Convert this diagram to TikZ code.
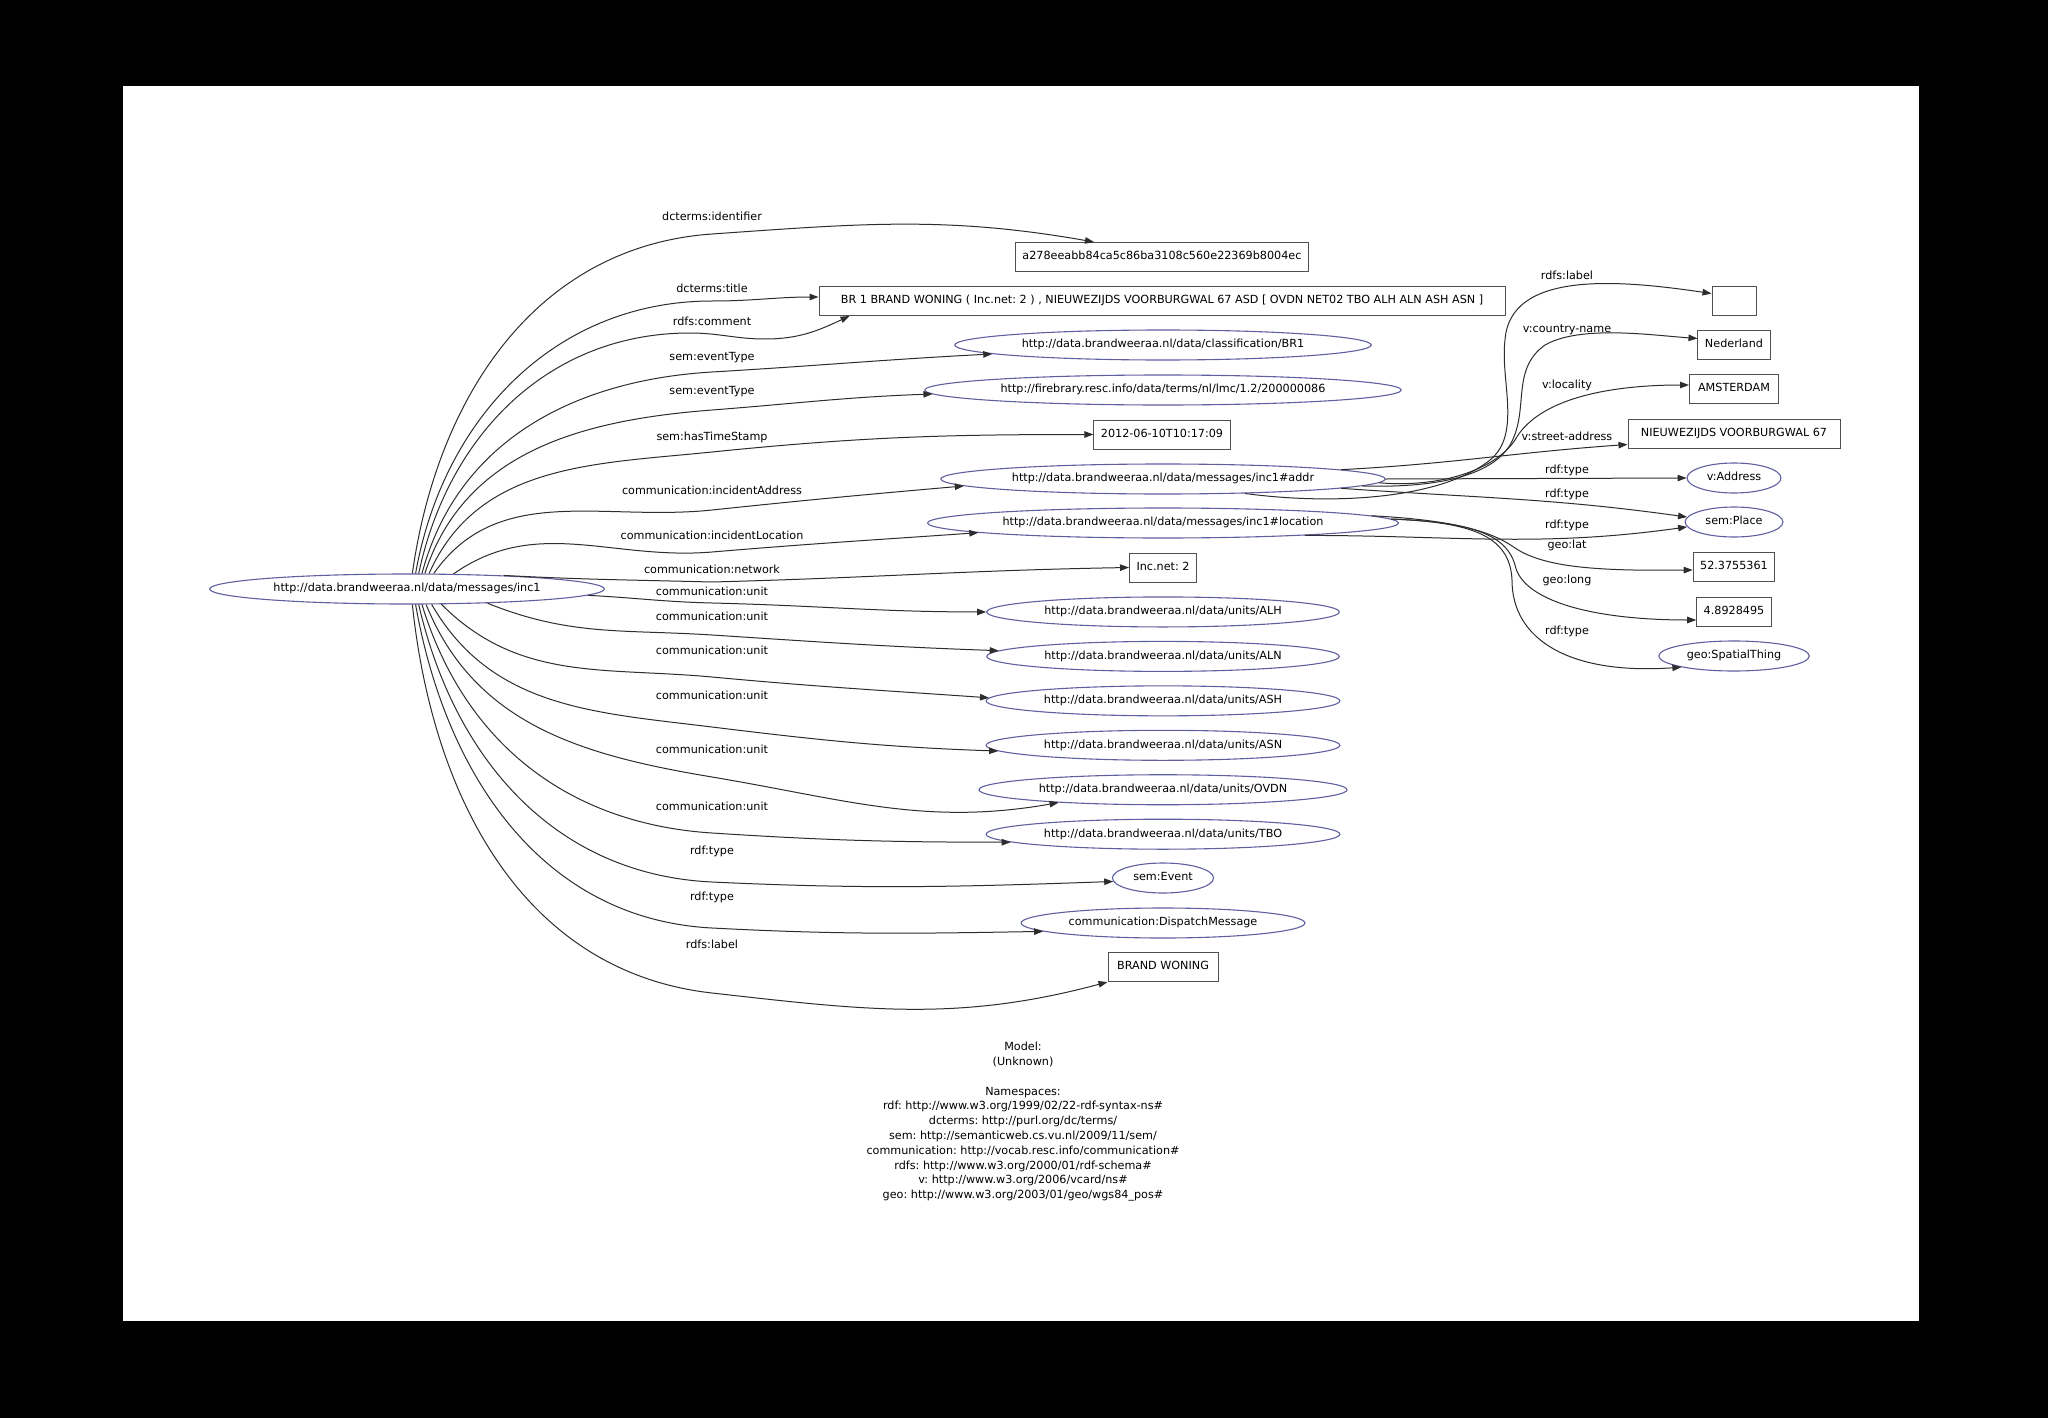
\documentclass[tikz,border=0pt]{standalone}
\usepackage{fontspec}
\setmainfont{DejaVu Sans}
\usepackage{tikz}
\usetikzlibrary{arrows.meta, shapes.geometric}
\definecolor{resblue}{RGB}{96,96,160}
\definecolor{litgray}{RGB}{80,80,80}
\definecolor{edgegray}{RGB}{45,45,45}
\frenchspacing

\begin{document}
\begin{tikzpicture}[x=1pt, y=-1pt,
    font=\fontsize{11.2}{14.8}\selectfont,
    res/.style={ellipse, draw=resblue, line width=1.1pt, inner xsep=6pt, inner ysep=0pt,
                minimum height=30pt, text height=8.3pt, text depth=2.4pt},
    lit/.style={rectangle, draw=litgray, line width=1pt, inner xsep=7pt,
                minimum height=29pt, minimum width=44pt, text height=8.3pt, text depth=2.4pt},
    edge/.style={draw=edgegray, line width=1pt, -{Triangle[length=9pt,width=6.5pt]}},
    lbl/.style={inner sep=0pt, text height=8.3pt, text depth=2.4pt}]
  \useasboundingbox (0,0) rectangle (2048,1418);
  \fill[black] (0,0) rectangle (2048,1418);
  \fill[white] (123,86) rectangle (1919,1321);

  % subject
  \node[res] (inc) at (407,589) {http://data.brandweeraa.nl/data/messages/inc1};

  % objects of inc1
  \node[lit] (idf) at (1162,257) {a278eeabb84ca5c86ba3108c560e22369b8004ec};
  \node[lit, minimum width=686pt] (title) at (1162,301) {BR 1 BRAND WONING ( Inc.net: 2 ) , NIEUWEZIJDS VOORBURGWAL 67 ASD [ OVDN NET02 TBO ALH ALN ASH ASN ]};
  \node[res] (cls) at (1163,345) {http://data.brandweeraa.nl/data/classification/BR1};
  \node[res] (lmc) at (1163,390) {http://firebrary.resc.info/data/terms/nl/lmc/1.2/200000086};
  \node[lit] (stamp) at (1162,434.5) {2012-06-10T10:17:09};
  \node[res] (addr) at (1163,479) {http://data.brandweeraa.nl/data/messages/inc1\#addr};
  \node[res] (loc) at (1163,523) {http://data.brandweeraa.nl/data/messages/inc1\#location};
  \node[lit] (net) at (1163,567.5) {Inc.net: 2};
  \foreach \u [count=\k] in {ALH,ALN,ASH,ASN,OVDN,TBO}
    \node[res] (u\u) at (1163,{567.5+44.45*\k}) {http://data.brandweeraa.nl/data/units/\u};
  \node[res] (event) at (1163,878) {sem:Event};
  \node[res] (dispatch) at (1163,923) {communication:DispatchMessage};
  \node[lit, minimum width=110pt] (brand) at (1163,967) {BRAND WONING};

  % objects of addr and location
  \node[lit] (empty) at (1734,300.5) {};
  \node[lit] (country) at (1734,344.5) {Nederland};
  \node[lit, minimum width=89pt] (city) at (1734,389) {AMSTERDAM};
  \node[lit, minimum width=212pt] (street) at (1734,433.5) {NIEUWEZIJDS VOORBURGWAL 67};
  \node[res] (vaddr) at (1734,478) {v:Address};
  \node[res] (place) at (1734,522) {sem:Place};
  \node[lit] (lat) at (1734,567) {52.3755361};
  \node[lit] (long) at (1734,612) {4.8928495};
  \node[res] (spatial) at (1734,656) {geo:SpatialThing};

  % edges leaving the top of inc1
  \draw[edge] (inc.71.6) to[out=82,in=184] (712,234) to[out=4,in=170] ([xshift=-68]idf.north);
  \draw[edge] (inc.61.9) to[out=80,in=180] (712,301) to[out=0,in=180] ([yshift=4]title.west);
  \draw[edge] (inc.53.7) to[out=78,in=180] (690,333) to[out=0,in=180] (765,339)
    to[out=0,in=205] ([xshift=31]title.south west);
  \draw[edge] (inc.46.9) to[out=75,in=183.4] (712,372) to[out=3.4,in=183] (cls.183);
  \draw[edge] (inc.41.3) to[out=72,in=184.4] (712,410) to[out=4.4,in=182] (lmc.181);
  \draw[edge] (inc.35.4) to[out=66,in=185.8] (712,452) to[out=5.8,in=180] (stamp.west);
  \draw[edge] (inc.30.8) to[out=55,in=186] (712,510) to[out=6,in=185] (addr.182);
  \draw[edge] (inc.18.8) to[out=35,in=184.8] (712,552) to[out=4.8,in=184] (loc.183);
  \draw[edge] (inc.8.5) to[out=-3,in=178.5] (712,582) to[out=1.5,in=181] (net.west);

  % edges leaving the bottom of inc1
  \foreach \u/\ua/\uo/\uy/\us/\ue/\ui in {ALH/-2.5/-3/603/-1.4/180/180, ALN/-10.8/-22/635/-3.7/178/178,
      ASH/-24.1/-45/677/-5.3/179/176, ASN/-32.9/-60/727/-7/182/178,
      OVDN/-39.7/-68/777/-9.5/187/190, TBO/-46.9/-73/833/-3.7/183/180} {
    \pgfmathsetmacro{\uin}{180+\us}
    \draw[edge] (inc.\ua) to[out=\uo,in=\uin] (712,\uy) to[out=\us,in=\ui] (u\u.\ue);
  }
  \draw[edge] (inc.-53.7) to[out=-77,in=177.3] (712,882) to[out=-2.7,in=182] (event.184);
  \draw[edge] (inc.-61.9) to[out=-80,in=177] (712,928) to[out=-3,in=181] (dispatch.184);
  \draw[edge] (inc.-71.6) to[out=-84,in=173.6] (712,993) to[out=-6.4,in=195] (brand.south west);

  % edges of addr
  \draw[edge] (addr.-10.9) .. controls (1330,505) and (1440,500) .. (1490,460)
    .. controls (1522,434) and (1500,380) .. (1505,340)
    .. controls (1510,270) and (1620,280) .. ([yshift=7]empty.west);
  \draw[edge] (addr.-2) .. controls (1430,488) and (1490,478) .. (1510,445)
    .. controls (1530,410) and (1510,370) .. (1545,345)
    .. controls (1580,325) and (1650,335) .. ([yshift=6]country.west);
  \draw[edge] (addr.-1) .. controls (1440,488) and (1495,470) .. (1515,440)
    .. controls (1540,395) and (1620,385) .. ([yshift=4]city.west);
  \draw[edge] (addr.3) to[out=3,in=184] ([yshift=-11]street.west);
  \draw[edge] (addr.east) -- (vaddr.west);
  \draw[edge] (addr.-3) to[out=-4,in=172] (place.174);

  % edges of location
  \draw[edge] (loc.-5) to[out=0,in=188] (place.186);
  \draw[edge] (loc.2) .. controls (1450,520) and (1490,530) .. (1515,548)
    .. controls (1545,568) and (1600,571) .. ([yshift=-3]lat.west);
  \draw[edge] (loc.1) .. controls (1460,522) and (1505,530) .. (1515,565)
    .. controls (1522,600) and (1590,620) .. ([yshift=-8]long.west);
  \draw[edge] (loc.1.5) .. controls (1470,522) and (1510,535) .. (1512,580)
    .. controls (1512,640) and (1570,675) .. (spatial.192);

  % predicate labels
  \foreach \y/\txt [count=\k] in {218/dcterms:identifier, 290/dcterms:title, 322.7/rdfs:comment,
      358/sem:eventType, 391.7/sem:eventType, 437.7/sem:hasTimeStamp,
      491.7/communication:incidentAddress, 536.7/communication:incidentLocation,
      570.7/communication:network, 593/communication:unit, 617.7/communication:unit,
      652/communication:unit, 697/communication:unit, 750.7/communication:unit,
      807.7/communication:unit, 851.7/rdf:type, 897.7/rdf:type, 945.3/rdfs:label}
    \node[lbl] (el\k) at (712,\y) {\txt};
  \foreach \y/\txt [count=\k] in {277/rdfs:label, 330/v:country-name, 385.7/v:locality,
      438/v:street-address, 470.7/rdf:type, 494.3/rdf:type, 525.7/rdf:type,
      546/geo:lat, 581/geo:long, 631.7/rdf:type}
    \node[lbl] (er\k) at (1567,\y) {\txt};

  % legend
  \node[align=center, inner sep=0pt, anchor=north] (legend) at (1023,1042)
    {Model:\\(Unknown)\\[14.8pt]Namespaces:\\
     rdf: http://www.w3.org/1999/02/22-rdf-syntax-ns\#\\
     dcterms: http://purl.org/dc/terms/\\
     sem: http://semanticweb.cs.vu.nl/2009/11/sem/\\
     communication: http://vocab.resc.info/communication\#\\
     rdfs: http://www.w3.org/2000/01/rdf-schema\#\\
     v: http://www.w3.org/2006/vcard/ns\#\\
     geo: http://www.w3.org/2003/01/geo/wgs84\_pos\#};
\end{tikzpicture}
\end{document}
